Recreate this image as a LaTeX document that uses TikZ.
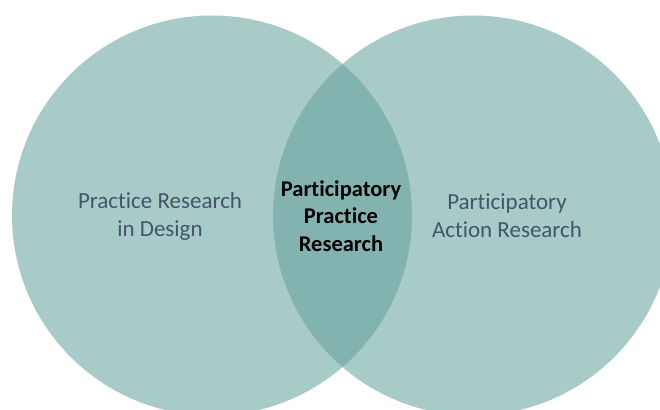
\documentclass[tikz,border=0pt]{standalone}
\usepackage{fontspec}
\setmainfont{Carlito}[Ligatures=NoCommon]
\usepackage{tikz}
\usetikzlibrary{positioning}

\definecolor{venn}{RGB}{98,160,154}
\definecolor{slate}{RGB}{68,84,106}

\begin{document}
\begin{tikzpicture}[
    x=1pt, y=1pt,
    every node/.style={align=center},
    set/.style={circle, fill=venn, fill opacity=0.55, minimum size=400pt, inner sep=0pt},
    setlabel/.style={font=\fontsize{23}{28}\selectfont, text=slate},
    corelabel/.style={font=\fontsize{22.5}{27.5}\selectfont\bfseries, text=black}
]
\useasboundingbox (0,0) rectangle (660,409);

% Practice research set (left)
\node[set] (prd) at (212, 193.5) {};
\node[setlabel] (prdlabel) at (160, 193) {Practice Research\\in Design};

% Action research set (right)
\node[set] (par) at (473, 193.5) {};
\node[setlabel] (parlabel) at (507, 193) {Participatory\\Action Research};

% Overlap
\node[corelabel] (pprlabel) at (341, 193) {Participatory\\Practice\\Research};
\end{tikzpicture}
\end{document}
